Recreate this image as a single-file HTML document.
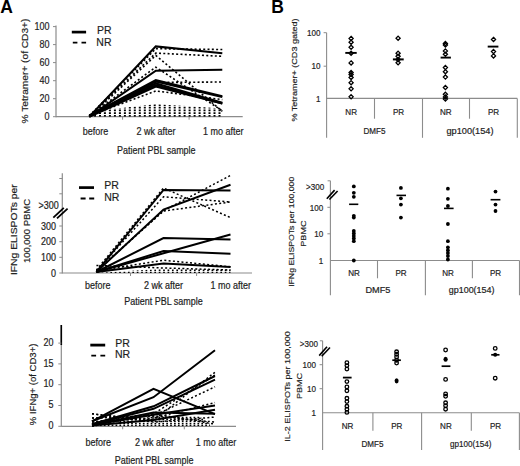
<!DOCTYPE html>
<html><head><meta charset="utf-8"><style>
html,body{margin:0;padding:0;background:#fff;}
body{width:520px;height:466px;overflow:hidden;}
svg{display:block;font-family:"Liberation Sans", sans-serif;}
</style></head><body>
<svg width="520" height="466" viewBox="0 0 520 466">
<rect width="520" height="466" fill="#fff"/>
<text transform="translate(0.2,12.6)" font-size="17.5" text-anchor="start" font-weight="bold" fill="#000">A</text>
<text transform="translate(271.2,12.7)" font-size="17.5" text-anchor="start" font-weight="bold" fill="#000">B</text>
<line x1="56.0" y1="25.5" x2="56.0" y2="117.2" stroke="#8c8c8c" stroke-width="1.2" stroke-linecap="butt"/>
<line x1="56.0" y1="116.7" x2="242.7" y2="116.7" stroke="#8c8c8c" stroke-width="1.2" stroke-linecap="butt"/>
<line x1="53.0" y1="116.7" x2="56.0" y2="116.7" stroke="#8c8c8c" stroke-width="1" stroke-linecap="butt"/>
<text transform="translate(49.6,120.3) scale(1.0,1.12)" font-size="9.0" text-anchor="end" fill="#1e1e1e" stroke="#1e1e1e" stroke-width="0.18">0</text>
<line x1="53.0" y1="98.7" x2="56.0" y2="98.7" stroke="#8c8c8c" stroke-width="1" stroke-linecap="butt"/>
<text transform="translate(49.6,102.3) scale(1.0,1.12)" font-size="9.0" text-anchor="end" fill="#1e1e1e" stroke="#1e1e1e" stroke-width="0.18">20</text>
<line x1="53.0" y1="80.7" x2="56.0" y2="80.7" stroke="#8c8c8c" stroke-width="1" stroke-linecap="butt"/>
<text transform="translate(49.6,84.3) scale(1.0,1.12)" font-size="9.0" text-anchor="end" fill="#1e1e1e" stroke="#1e1e1e" stroke-width="0.18">40</text>
<line x1="53.0" y1="62.6" x2="56.0" y2="62.6" stroke="#8c8c8c" stroke-width="1" stroke-linecap="butt"/>
<text transform="translate(49.6,66.2) scale(1.0,1.12)" font-size="9.0" text-anchor="end" fill="#1e1e1e" stroke="#1e1e1e" stroke-width="0.18">60</text>
<line x1="53.0" y1="44.6" x2="56.0" y2="44.6" stroke="#8c8c8c" stroke-width="1" stroke-linecap="butt"/>
<text transform="translate(49.6,48.2) scale(1.0,1.12)" font-size="9.0" text-anchor="end" fill="#1e1e1e" stroke="#1e1e1e" stroke-width="0.18">80</text>
<line x1="53.0" y1="26.6" x2="56.0" y2="26.6" stroke="#8c8c8c" stroke-width="1" stroke-linecap="butt"/>
<text transform="translate(49.6,30.2) scale(1.0,1.12)" font-size="9.0" text-anchor="end" fill="#1e1e1e" stroke="#1e1e1e" stroke-width="0.18">100</text>
<line x1="122.6" y1="116.7" x2="122.6" y2="119.7" stroke="#8c8c8c" stroke-width="1" stroke-linecap="butt"/>
<line x1="189.1" y1="116.7" x2="189.1" y2="119.7" stroke="#8c8c8c" stroke-width="1" stroke-linecap="butt"/>
<text transform="translate(95.6,135.0) scale(1.0,1.12)" font-size="9.0" text-anchor="middle" fill="#1e1e1e" stroke="#1e1e1e" stroke-width="0.18">before</text>
<text transform="translate(156.0,135.0) scale(1.0,1.12)" font-size="9.0" text-anchor="middle" fill="#1e1e1e" stroke="#1e1e1e" stroke-width="0.18">2 wk after</text>
<text transform="translate(223.2,135.0) scale(1.0,1.12)" font-size="9.0" text-anchor="middle" fill="#1e1e1e" stroke="#1e1e1e" stroke-width="0.18">1 mo after</text>
<text transform="translate(156.3,153.8) scale(1.0,1.12)" font-size="9.0" text-anchor="middle" fill="#1e1e1e" stroke="#1e1e1e" stroke-width="0.18">Patient PBL sample</text>
<text transform="translate(27.8,71.0) rotate(-90) scale(1.13,1.0)" font-size="9.0" text-anchor="middle" fill="#1e1e1e" stroke="#1e1e1e" stroke-width="0.18">% Tetramer+ (of CD3+)</text>
<line x1="71.8" y1="32.1" x2="86.1" y2="32.1" stroke="#000" stroke-width="2.7" stroke-linecap="butt"/>
<line x1="72.8" y1="42.7" x2="86.8" y2="42.7" stroke="#000" stroke-width="1.8" stroke-dasharray="4.6,4.1" stroke-linecap="butt"/>
<text transform="translate(96.9,34.1)" font-size="10.5" text-anchor="start" fill="#1e1e1e" stroke="#1e1e1e" stroke-width="0.18">PR</text>
<text transform="translate(96.3,45.6)" font-size="10.5" text-anchor="start" fill="#1e1e1e" stroke="#1e1e1e" stroke-width="0.18">NR</text>
<clipPath id="h1"><polygon points="89.3,116.7 95.0,115.0 100.0,112.5 105.0,110.6 110.0,109.3 120.0,108.2 130.0,107.0 155.8,104.3 190.0,106.3 222.3,108.6 222.3,116.7"/></clipPath>
<g clip-path="url(#h1)" stroke="#000" stroke-width="2.0" stroke-dasharray="1.8,0.9"><line x1="90.0" y1="116.7" x2="90.0" y2="104.3"/><line x1="95.0" y1="116.7" x2="95.0" y2="104.3"/><line x1="100.0" y1="116.7" x2="100.0" y2="104.3"/><line x1="104.9" y1="116.7" x2="104.9" y2="104.3"/><line x1="109.9" y1="116.7" x2="109.9" y2="104.3"/><line x1="114.9" y1="116.7" x2="114.9" y2="104.3"/><line x1="119.9" y1="116.7" x2="119.9" y2="104.3"/><line x1="124.9" y1="116.7" x2="124.9" y2="104.3"/><line x1="129.8" y1="116.7" x2="129.8" y2="104.3"/><line x1="134.8" y1="116.7" x2="134.8" y2="104.3"/><line x1="139.8" y1="116.7" x2="139.8" y2="104.3"/><line x1="144.8" y1="116.7" x2="144.8" y2="104.3"/><line x1="149.8" y1="116.7" x2="149.8" y2="104.3"/><line x1="154.7" y1="116.7" x2="154.7" y2="104.3"/><line x1="159.7" y1="116.7" x2="159.7" y2="104.3"/><line x1="164.7" y1="116.7" x2="164.7" y2="104.3"/><line x1="169.7" y1="116.7" x2="169.7" y2="104.3"/><line x1="174.7" y1="116.7" x2="174.7" y2="104.3"/><line x1="179.6" y1="116.7" x2="179.6" y2="104.3"/><line x1="184.6" y1="116.7" x2="184.6" y2="104.3"/><line x1="189.6" y1="116.7" x2="189.6" y2="104.3"/><line x1="194.6" y1="116.7" x2="194.6" y2="104.3"/><line x1="199.6" y1="116.7" x2="199.6" y2="104.3"/><line x1="204.5" y1="116.7" x2="204.5" y2="104.3"/><line x1="209.5" y1="116.7" x2="209.5" y2="104.3"/><line x1="214.5" y1="116.7" x2="214.5" y2="104.3"/><line x1="219.5" y1="116.7" x2="219.5" y2="104.3"/></g>
<polyline points="89.3,115.8 155.8,48.7 222.3,49.5" fill="none" stroke="#000" stroke-width="1.6" stroke-dasharray="2,2.3" stroke-linecap="butt" stroke-linejoin="miter"/>
<polyline points="89.3,115.8 155.8,53.1 222.3,56.3" fill="none" stroke="#000" stroke-width="1.6" stroke-dasharray="2,2.3" stroke-linecap="butt" stroke-linejoin="miter"/>
<polyline points="89.3,116.7 155.8,55.4 222.3,111.3" fill="none" stroke="#000" stroke-width="1.6" stroke-dasharray="2,2.3" stroke-linecap="butt" stroke-linejoin="miter"/>
<polyline points="89.3,115.8 155.8,67.1 222.3,110.8" fill="none" stroke="#000" stroke-width="1.6" stroke-dasharray="2,2.3" stroke-linecap="butt" stroke-linejoin="miter"/>
<polyline points="89.3,115.8 155.8,82.5 222.3,82.0" fill="none" stroke="#000" stroke-width="1.6" stroke-dasharray="2,2.3" stroke-linecap="butt" stroke-linejoin="miter"/>
<polyline points="89.3,115.8 155.8,90.9 222.3,99.6" fill="none" stroke="#000" stroke-width="1.6" stroke-dasharray="2,2.3" stroke-linecap="butt" stroke-linejoin="miter"/>
<polyline points="89.3,116.7 155.8,46.4 222.3,53.2" fill="none" stroke="#000" stroke-width="2.1" stroke-linecap="butt" stroke-linejoin="miter"/>
<polyline points="89.3,116.7 155.8,70.7 222.3,69.8" fill="none" stroke="#000" stroke-width="2.1" stroke-linecap="butt" stroke-linejoin="miter"/>
<polyline points="89.3,115.8 155.8,80.2 222.3,96.2" fill="none" stroke="#000" stroke-width="2.1" stroke-linecap="butt" stroke-linejoin="miter"/>
<polyline points="89.3,115.8 155.8,81.6 222.3,96.9" fill="none" stroke="#000" stroke-width="2.1" stroke-linecap="butt" stroke-linejoin="miter"/>
<polyline points="89.3,116.2 155.8,83.4 222.3,102.7" fill="none" stroke="#000" stroke-width="2.1" stroke-linecap="butt" stroke-linejoin="miter"/>
<polyline points="89.3,115.8 155.8,85.2 222.3,103.6" fill="none" stroke="#000" stroke-width="2.1" stroke-linecap="butt" stroke-linejoin="miter"/>
<polyline points="89.3,116.7 155.8,86.5 222.3,103.4" fill="none" stroke="#000" stroke-width="2.1" stroke-linecap="butt" stroke-linejoin="miter"/>
<line x1="62.3" y1="173.3" x2="62.3" y2="273.5" stroke="#8c8c8c" stroke-width="1.2" stroke-linecap="butt"/>
<line x1="62.3" y1="273.0" x2="252.0" y2="273.0" stroke="#8c8c8c" stroke-width="1.2" stroke-linecap="butt"/>
<line x1="59.3" y1="178.5" x2="62.3" y2="178.5" stroke="#8c8c8c" stroke-width="1" stroke-linecap="butt"/>
<line x1="59.3" y1="193.8" x2="62.3" y2="193.8" stroke="#8c8c8c" stroke-width="1" stroke-linecap="butt"/>
<line x1="59.3" y1="273.0" x2="62.3" y2="273.0" stroke="#8c8c8c" stroke-width="1" stroke-linecap="butt"/>
<text transform="translate(56.0,276.6) scale(1.0,1.12)" font-size="9.0" text-anchor="end" fill="#1e1e1e" stroke="#1e1e1e" stroke-width="0.18">0</text>
<line x1="59.3" y1="257.3" x2="62.3" y2="257.3" stroke="#8c8c8c" stroke-width="1" stroke-linecap="butt"/>
<text transform="translate(56.0,260.9) scale(1.0,1.12)" font-size="9.0" text-anchor="end" fill="#1e1e1e" stroke="#1e1e1e" stroke-width="0.18">100</text>
<line x1="59.3" y1="241.7" x2="62.3" y2="241.7" stroke="#8c8c8c" stroke-width="1" stroke-linecap="butt"/>
<text transform="translate(56.0,245.3) scale(1.0,1.12)" font-size="9.0" text-anchor="end" fill="#1e1e1e" stroke="#1e1e1e" stroke-width="0.18">200</text>
<line x1="59.3" y1="226.0" x2="62.3" y2="226.0" stroke="#8c8c8c" stroke-width="1" stroke-linecap="butt"/>
<text transform="translate(56.0,229.6) scale(1.0,1.12)" font-size="9.0" text-anchor="end" fill="#1e1e1e" stroke="#1e1e1e" stroke-width="0.18">300</text>
<text transform="translate(58.8,208.9) scale(1.0,1.12)" font-size="9.0" text-anchor="end" fill="#1e1e1e" stroke="#1e1e1e" stroke-width="0.18">&gt;300</text>
<line x1="53.3" y1="217.6" x2="63.8" y2="207.8" stroke="#000" stroke-width="1.8" stroke-linecap="butt"/>
<line x1="57.0" y1="218.3" x2="67.6" y2="208.6" stroke="#000" stroke-width="1.8" stroke-linecap="butt"/>
<line x1="130.5" y1="273.0" x2="130.5" y2="276.0" stroke="#8c8c8c" stroke-width="1" stroke-linecap="butt"/>
<line x1="196.6" y1="273.0" x2="196.6" y2="276.0" stroke="#8c8c8c" stroke-width="1" stroke-linecap="butt"/>
<text transform="translate(97.8,289.0) scale(1.0,1.12)" font-size="9.0" text-anchor="middle" fill="#1e1e1e" stroke="#1e1e1e" stroke-width="0.18">before</text>
<text transform="translate(163.5,289.0) scale(1.0,1.12)" font-size="9.0" text-anchor="middle" fill="#1e1e1e" stroke="#1e1e1e" stroke-width="0.18">2 wk after</text>
<text transform="translate(230.7,289.0) scale(1.0,1.12)" font-size="9.0" text-anchor="middle" fill="#1e1e1e" stroke="#1e1e1e" stroke-width="0.18">1 mo after</text>
<text transform="translate(163.5,305.2) scale(1.0,1.12)" font-size="9.0" text-anchor="middle" fill="#1e1e1e" stroke="#1e1e1e" stroke-width="0.18">Patient PBL sample</text>
<text transform="translate(17.0,229.7) rotate(-90) scale(1.15,1.0)" font-size="9.0" text-anchor="middle" fill="#1e1e1e" stroke="#1e1e1e" stroke-width="0.18">IFNg ELISPOTs per</text>
<text transform="translate(29.5,231.0) rotate(-90) scale(1.05,1.0)" font-size="9.0" text-anchor="middle" fill="#1e1e1e" stroke="#1e1e1e" stroke-width="0.18">100,000 PBMC</text>
<line x1="79.0" y1="187.6" x2="94.0" y2="187.6" stroke="#000" stroke-width="2.7" stroke-linecap="butt"/>
<line x1="80.6" y1="198.5" x2="94.7" y2="198.5" stroke="#000" stroke-width="1.8" stroke-dasharray="5,3.6" stroke-linecap="butt"/>
<text transform="translate(104.2,189.4)" font-size="10.5" text-anchor="start" fill="#1e1e1e" stroke="#1e1e1e" stroke-width="0.18">PR</text>
<text transform="translate(104.2,201.2)" font-size="10.5" text-anchor="start" fill="#1e1e1e" stroke="#1e1e1e" stroke-width="0.18">NR</text>
<clipPath id="h2"><polygon points="96.4,273.0 163.5,268.8 230.5,268.8 230.5,273.0"/></clipPath>
<g clip-path="url(#h2)" stroke="#000" stroke-width="1.7" stroke-dasharray="1.3,0.8"><line x1="98.0" y1="273.0" x2="98.0" y2="268.8"/><line x1="102.4" y1="273.0" x2="102.4" y2="268.8"/><line x1="106.8" y1="273.0" x2="106.8" y2="268.8"/><line x1="111.2" y1="273.0" x2="111.2" y2="268.8"/><line x1="115.6" y1="273.0" x2="115.6" y2="268.8"/><line x1="120.0" y1="273.0" x2="120.0" y2="268.8"/><line x1="124.4" y1="273.0" x2="124.4" y2="268.8"/><line x1="128.8" y1="273.0" x2="128.8" y2="268.8"/><line x1="133.2" y1="273.0" x2="133.2" y2="268.8"/><line x1="137.6" y1="273.0" x2="137.6" y2="268.8"/><line x1="142.0" y1="273.0" x2="142.0" y2="268.8"/><line x1="146.4" y1="273.0" x2="146.4" y2="268.8"/><line x1="150.8" y1="273.0" x2="150.8" y2="268.8"/><line x1="155.2" y1="273.0" x2="155.2" y2="268.8"/><line x1="159.6" y1="273.0" x2="159.6" y2="268.8"/><line x1="164.0" y1="273.0" x2="164.0" y2="268.8"/><line x1="168.4" y1="273.0" x2="168.4" y2="268.8"/><line x1="172.8" y1="273.0" x2="172.8" y2="268.8"/><line x1="177.2" y1="273.0" x2="177.2" y2="268.8"/><line x1="181.6" y1="273.0" x2="181.6" y2="268.8"/><line x1="186.0" y1="273.0" x2="186.0" y2="268.8"/><line x1="190.4" y1="273.0" x2="190.4" y2="268.8"/><line x1="194.8" y1="273.0" x2="194.8" y2="268.8"/><line x1="199.2" y1="273.0" x2="199.2" y2="268.8"/><line x1="203.6" y1="273.0" x2="203.6" y2="268.8"/><line x1="208.0" y1="273.0" x2="208.0" y2="268.8"/><line x1="212.4" y1="273.0" x2="212.4" y2="268.8"/><line x1="216.8" y1="273.0" x2="216.8" y2="268.8"/><line x1="221.2" y1="273.0" x2="221.2" y2="268.8"/><line x1="225.6" y1="273.0" x2="225.6" y2="268.8"/><line x1="230.0" y1="273.0" x2="230.0" y2="268.8"/></g>
<polyline points="96.4,271.0 163.5,210.8 230.5,175.4" fill="none" stroke="#000" stroke-width="1.5" stroke-dasharray="2,2.3" stroke-linecap="butt" stroke-linejoin="miter"/>
<polyline points="96.4,271.0 163.5,196.8 230.5,202.0" fill="none" stroke="#000" stroke-width="1.5" stroke-dasharray="2,2.3" stroke-linecap="butt" stroke-linejoin="miter"/>
<polyline points="96.4,270.0 163.5,188.0 230.5,217.6" fill="none" stroke="#000" stroke-width="1.5" stroke-dasharray="2,2.3" stroke-linecap="butt" stroke-linejoin="miter"/>
<polyline points="96.4,271.0 163.5,211.0 230.5,202.0" fill="none" stroke="#000" stroke-width="1.5" stroke-dasharray="2,2.3" stroke-linecap="butt" stroke-linejoin="miter"/>
<polyline points="96.4,271.0 163.5,260.2 230.5,266.8" fill="none" stroke="#000" stroke-width="1.5" stroke-dasharray="2,2.3" stroke-linecap="butt" stroke-linejoin="miter"/>
<polyline points="96.4,265.4 163.5,268.0 230.5,270.0" fill="none" stroke="#000" stroke-width="1.5" stroke-dasharray="2,2.3" stroke-linecap="butt" stroke-linejoin="miter"/>
<polyline points="96.4,272.0 163.5,189.9 230.5,190.4" fill="none" stroke="#000" stroke-width="2.0" stroke-linecap="butt" stroke-linejoin="miter"/>
<polyline points="96.4,272.0 163.5,209.5 230.5,184.7" fill="none" stroke="#000" stroke-width="2.0" stroke-linecap="butt" stroke-linejoin="miter"/>
<polyline points="96.4,272.0 163.5,238.0 230.5,239.4" fill="none" stroke="#000" stroke-width="2.0" stroke-linecap="butt" stroke-linejoin="miter"/>
<polyline points="96.4,272.0 163.5,253.3 230.5,234.5" fill="none" stroke="#000" stroke-width="2.0" stroke-linecap="butt" stroke-linejoin="miter"/>
<polyline points="96.4,272.0 163.5,251.0 230.5,253.8" fill="none" stroke="#000" stroke-width="2.0" stroke-linecap="butt" stroke-linejoin="miter"/>
<polyline points="96.4,272.0 163.5,263.5 230.5,267.0" fill="none" stroke="#000" stroke-width="2.0" stroke-linecap="butt" stroke-linejoin="miter"/>
<line x1="61.3" y1="325.0" x2="61.3" y2="426.8" stroke="#8c8c8c" stroke-width="1.2" stroke-linecap="butt"/>
<line x1="61.3" y1="325.0" x2="61.3" y2="345.0" stroke="#000" stroke-width="1.6" stroke-linecap="butt"/>
<line x1="61.3" y1="426.3" x2="236.0" y2="426.3" stroke="#8c8c8c" stroke-width="1.2" stroke-linecap="butt"/>
<line x1="58.3" y1="426.3" x2="61.3" y2="426.3" stroke="#8c8c8c" stroke-width="1" stroke-linecap="butt"/>
<text transform="translate(53.4,428.9) scale(1.0,1.12)" font-size="9.0" text-anchor="end" fill="#1e1e1e" stroke="#1e1e1e" stroke-width="0.18">0</text>
<line x1="58.3" y1="405.5" x2="61.3" y2="405.5" stroke="#8c8c8c" stroke-width="1" stroke-linecap="butt"/>
<text transform="translate(53.4,408.1) scale(1.0,1.12)" font-size="9.0" text-anchor="end" fill="#1e1e1e" stroke="#1e1e1e" stroke-width="0.18">5</text>
<line x1="58.3" y1="384.7" x2="61.3" y2="384.7" stroke="#8c8c8c" stroke-width="1" stroke-linecap="butt"/>
<text transform="translate(53.4,387.3) scale(1.0,1.12)" font-size="9.0" text-anchor="end" fill="#1e1e1e" stroke="#1e1e1e" stroke-width="0.18">10</text>
<line x1="58.3" y1="363.9" x2="61.3" y2="363.9" stroke="#8c8c8c" stroke-width="1" stroke-linecap="butt"/>
<text transform="translate(53.4,366.5) scale(1.0,1.12)" font-size="9.0" text-anchor="end" fill="#1e1e1e" stroke="#1e1e1e" stroke-width="0.18">15</text>
<line x1="58.3" y1="343.1" x2="61.3" y2="343.1" stroke="#8c8c8c" stroke-width="1" stroke-linecap="butt"/>
<text transform="translate(53.4,345.7) scale(1.0,1.12)" font-size="9.0" text-anchor="end" fill="#1e1e1e" stroke="#1e1e1e" stroke-width="0.18">20</text>
<line x1="122.7" y1="426.3" x2="122.7" y2="429.3" stroke="#8c8c8c" stroke-width="1" stroke-linecap="butt"/>
<line x1="184.3" y1="426.3" x2="184.3" y2="429.3" stroke="#8c8c8c" stroke-width="1" stroke-linecap="butt"/>
<text transform="translate(98.2,445.7) scale(1.0,1.12)" font-size="9.0" text-anchor="middle" fill="#1e1e1e" stroke="#1e1e1e" stroke-width="0.18">before</text>
<text transform="translate(154.6,445.7) scale(1.0,1.12)" font-size="9.0" text-anchor="middle" fill="#1e1e1e" stroke="#1e1e1e" stroke-width="0.18">2 wk after</text>
<text transform="translate(216.0,445.7) scale(1.0,1.12)" font-size="9.0" text-anchor="middle" fill="#1e1e1e" stroke="#1e1e1e" stroke-width="0.18">1 mo after</text>
<text transform="translate(154.1,464.1) scale(1.0,1.12)" font-size="9.0" text-anchor="middle" fill="#1e1e1e" stroke="#1e1e1e" stroke-width="0.18">Patient PBL sample</text>
<text transform="translate(35.7,384.4) rotate(-90) scale(1.06,1.0)" font-size="9.0" text-anchor="middle" fill="#1e1e1e" stroke="#1e1e1e" stroke-width="0.18">% IFNg+ (of CD3+)</text>
<line x1="90.3" y1="345.1" x2="105.2" y2="345.1" stroke="#000" stroke-width="2.8" stroke-linecap="butt"/>
<line x1="91.3" y1="355.7" x2="105.7" y2="355.7" stroke="#000" stroke-width="1.8" stroke-dasharray="4.8,4.3" stroke-linecap="butt"/>
<text transform="translate(115.3,346.5)" font-size="10.5" text-anchor="start" fill="#1e1e1e" stroke="#1e1e1e" stroke-width="0.18">PR</text>
<text transform="translate(115.0,358.2)" font-size="10.5" text-anchor="start" fill="#1e1e1e" stroke="#1e1e1e" stroke-width="0.18">NR</text>
<clipPath id="h3"><polygon points="92.0,426.3 125.0,420.0 153.5,416.5 200.0,416.5 210.0,424.0 210.0,426.3"/></clipPath>
<g clip-path="url(#h3)" stroke="#000" stroke-width="1.7" stroke-dasharray="1.5,0.6"><line x1="93.0" y1="426.3" x2="93.0" y2="416.5"/><line x1="96.9" y1="426.3" x2="96.9" y2="416.5"/><line x1="100.8" y1="426.3" x2="100.8" y2="416.5"/><line x1="104.7" y1="426.3" x2="104.7" y2="416.5"/><line x1="108.6" y1="426.3" x2="108.6" y2="416.5"/><line x1="112.5" y1="426.3" x2="112.5" y2="416.5"/><line x1="116.4" y1="426.3" x2="116.4" y2="416.5"/><line x1="120.3" y1="426.3" x2="120.3" y2="416.5"/><line x1="124.2" y1="426.3" x2="124.2" y2="416.5"/><line x1="128.1" y1="426.3" x2="128.1" y2="416.5"/><line x1="132.0" y1="426.3" x2="132.0" y2="416.5"/><line x1="135.9" y1="426.3" x2="135.9" y2="416.5"/><line x1="139.8" y1="426.3" x2="139.8" y2="416.5"/><line x1="143.7" y1="426.3" x2="143.7" y2="416.5"/><line x1="147.6" y1="426.3" x2="147.6" y2="416.5"/><line x1="151.5" y1="426.3" x2="151.5" y2="416.5"/><line x1="155.4" y1="426.3" x2="155.4" y2="416.5"/><line x1="159.3" y1="426.3" x2="159.3" y2="416.5"/><line x1="163.2" y1="426.3" x2="163.2" y2="416.5"/><line x1="167.1" y1="426.3" x2="167.1" y2="416.5"/><line x1="171.0" y1="426.3" x2="171.0" y2="416.5"/><line x1="174.9" y1="426.3" x2="174.9" y2="416.5"/><line x1="178.8" y1="426.3" x2="178.8" y2="416.5"/><line x1="182.7" y1="426.3" x2="182.7" y2="416.5"/><line x1="186.6" y1="426.3" x2="186.6" y2="416.5"/><line x1="190.5" y1="426.3" x2="190.5" y2="416.5"/><line x1="194.4" y1="426.3" x2="194.4" y2="416.5"/><line x1="198.3" y1="426.3" x2="198.3" y2="416.5"/><line x1="202.2" y1="426.3" x2="202.2" y2="416.5"/><line x1="206.1" y1="426.3" x2="206.1" y2="416.5"/><line x1="210.0" y1="426.3" x2="210.0" y2="416.5"/><line x1="213.9" y1="426.3" x2="213.9" y2="416.5"/></g>
<polyline points="92.0,413.8 153.5,420.1 215.0,372.2" fill="none" stroke="#000" stroke-width="1.5" stroke-dasharray="2,2.3" stroke-linecap="butt" stroke-linejoin="miter"/>
<polyline points="92.0,418.0 153.5,415.9 215.0,386.8" fill="none" stroke="#000" stroke-width="1.5" stroke-dasharray="2,2.3" stroke-linecap="butt" stroke-linejoin="miter"/>
<polyline points="92.0,422.1 153.5,418.0 215.0,402.6" fill="none" stroke="#000" stroke-width="1.5" stroke-dasharray="2,2.3" stroke-linecap="butt" stroke-linejoin="miter"/>
<polyline points="92.0,426.3 153.5,413.8 215.0,375.1" fill="none" stroke="#000" stroke-width="1.5" stroke-dasharray="2,2.3" stroke-linecap="butt" stroke-linejoin="miter"/>
<polyline points="92.0,418.0 153.5,415.9 215.0,422.1" fill="none" stroke="#000" stroke-width="1.5" stroke-dasharray="2,2.3" stroke-linecap="butt" stroke-linejoin="miter"/>
<polyline points="92.0,413.8 153.5,422.1 215.0,417.1" fill="none" stroke="#000" stroke-width="1.5" stroke-dasharray="2,2.3" stroke-linecap="butt" stroke-linejoin="miter"/>
<polyline points="92.0,422.1 153.5,413.8 215.0,424.2" fill="none" stroke="#000" stroke-width="1.5" stroke-dasharray="2,2.3" stroke-linecap="butt" stroke-linejoin="miter"/>
<polyline points="92.0,421.3 153.5,397.2 215.0,350.2" fill="none" stroke="#000" stroke-width="2.0" stroke-linecap="butt" stroke-linejoin="miter"/>
<polyline points="92.0,421.3 153.5,388.9 215.0,414.2" fill="none" stroke="#000" stroke-width="2.0" stroke-linecap="butt" stroke-linejoin="miter"/>
<polyline points="92.0,424.2 153.5,406.3 215.0,376.0" fill="none" stroke="#000" stroke-width="2.0" stroke-linecap="butt" stroke-linejoin="miter"/>
<polyline points="92.0,424.2 153.5,408.8 215.0,379.7" fill="none" stroke="#000" stroke-width="2.0" stroke-linecap="butt" stroke-linejoin="miter"/>
<polyline points="92.0,425.1 153.5,414.7 215.0,405.5" fill="none" stroke="#000" stroke-width="2.0" stroke-linecap="butt" stroke-linejoin="miter"/>
<polyline points="92.0,425.1 153.5,412.6 215.0,413.8" fill="none" stroke="#000" stroke-width="2.0" stroke-linecap="butt" stroke-linejoin="miter"/>
<polyline points="92.0,425.5 153.5,420.1 215.0,409.7" fill="none" stroke="#000" stroke-width="2.0" stroke-linecap="butt" stroke-linejoin="miter"/>
<line x1="326.6" y1="32.7" x2="326.6" y2="137.8" stroke="#8c8c8c" stroke-width="1.1" stroke-linecap="butt"/>
<line x1="326.6" y1="98.4" x2="517.3" y2="98.4" stroke="#8c8c8c" stroke-width="1.1" stroke-linecap="butt"/>
<line x1="323.6" y1="32.7" x2="326.6" y2="32.7" stroke="#8c8c8c" stroke-width="1" stroke-linecap="butt"/>
<line x1="323.6" y1="66.2" x2="326.6" y2="66.2" stroke="#8c8c8c" stroke-width="1" stroke-linecap="butt"/>
<line x1="374.5" y1="98.4" x2="374.5" y2="118.7" stroke="#8c8c8c" stroke-width="1.1" stroke-linecap="butt"/>
<line x1="422.5" y1="98.4" x2="422.5" y2="137.8" stroke="#8c8c8c" stroke-width="1.1" stroke-linecap="butt"/>
<line x1="469.5" y1="98.4" x2="469.5" y2="118.7" stroke="#8c8c8c" stroke-width="1.1" stroke-linecap="butt"/>
<line x1="517.3" y1="98.4" x2="517.3" y2="137.8" stroke="#8c8c8c" stroke-width="1.1" stroke-linecap="butt"/>
<text transform="translate(320.6,35.9) scale(1.0,1.12)" font-size="8.1" text-anchor="end" fill="#1e1e1e" stroke="#1e1e1e" stroke-width="0.18">100</text>
<text transform="translate(320.6,69.4) scale(1.0,1.12)" font-size="8.1" text-anchor="end" fill="#1e1e1e" stroke="#1e1e1e" stroke-width="0.18">10</text>
<text transform="translate(320.6,101.6) scale(1.0,1.12)" font-size="8.1" text-anchor="end" fill="#1e1e1e" stroke="#1e1e1e" stroke-width="0.18">1</text>
<text transform="translate(296.6,70.0) rotate(-90) scale(1.12,1.0)" font-size="8.1" text-anchor="middle" fill="#1e1e1e" stroke="#1e1e1e" stroke-width="0.18">% Tetramer+ (CD3 gated)</text>
<text transform="translate(351.2,114.6) scale(1.0,1.12)" font-size="8.1" text-anchor="middle" fill="#1e1e1e" stroke="#1e1e1e" stroke-width="0.18">NR</text>
<text transform="translate(398.5,114.6) scale(1.0,1.12)" font-size="8.1" text-anchor="middle" fill="#1e1e1e" stroke="#1e1e1e" stroke-width="0.18">PR</text>
<text transform="translate(445.8,114.6) scale(1.0,1.12)" font-size="8.1" text-anchor="middle" fill="#1e1e1e" stroke="#1e1e1e" stroke-width="0.18">NR</text>
<text transform="translate(493.5,114.6) scale(1.0,1.12)" font-size="8.1" text-anchor="middle" fill="#1e1e1e" stroke="#1e1e1e" stroke-width="0.18">PR</text>
<text transform="translate(374.5,134.3) scale(1.0,1.12)" font-size="8.1" text-anchor="middle" fill="#1e1e1e" stroke="#1e1e1e" stroke-width="0.18">DMF5</text>
<text transform="translate(470.0,134.3) scale(1.0,1.12)" font-size="8.1" text-anchor="middle" fill="#1e1e1e" stroke="#1e1e1e" stroke-width="0.18" textLength="47.0" lengthAdjust="spacingAndGlyphs">gp100(154)</text>
<path d="M351.1,36.3 L353.2,38.4 L351.1,40.5 L349.0,38.4 Z" fill="none" stroke="#000" stroke-width="1.25"/>
<path d="M351.1,40.1 L353.2,42.2 L351.1,44.3 L349.0,42.2 Z" fill="none" stroke="#000" stroke-width="1.25"/>
<path d="M351.1,45.2 L353.2,47.3 L351.1,49.4 L349.0,47.3 Z" fill="none" stroke="#000" stroke-width="1.25"/>
<path d="M351.1,51.2 L353.2,53.3 L351.1,55.4 L349.0,53.3 Z" fill="none" stroke="#000" stroke-width="1.25"/>
<path d="M351.1,60.8 L353.2,62.9 L351.1,65.0 L349.0,62.9 Z" fill="none" stroke="#000" stroke-width="1.25"/>
<path d="M351.1,70.4 L353.2,72.5 L351.1,74.6 L349.0,72.5 Z" fill="none" stroke="#000" stroke-width="1.25"/>
<path d="M351.1,72.4 L353.2,74.5 L351.1,76.6 L349.0,74.5 Z" fill="none" stroke="#000" stroke-width="1.25"/>
<path d="M351.1,75.3 L353.2,77.4 L351.1,79.5 L349.0,77.4 Z" fill="none" stroke="#000" stroke-width="1.25"/>
<path d="M351.1,80.6 L353.2,82.7 L351.1,84.8 L349.0,82.7 Z" fill="none" stroke="#000" stroke-width="1.25"/>
<path d="M351.1,86.7 L353.2,88.8 L351.1,90.9 L349.0,88.8 Z" fill="none" stroke="#000" stroke-width="1.25"/>
<path d="M351.1,94.7 L353.2,96.8 L351.1,98.9 L349.0,96.8 Z" fill="none" stroke="#000" stroke-width="1.25"/>
<line x1="345.3" y1="52.9" x2="356.7" y2="52.9" stroke="#000" stroke-width="1.9" stroke-linecap="butt"/>
<path d="M398.1,36.1 L400.2,38.2 L398.1,40.3 L396.0,38.2 Z" fill="none" stroke="#000" stroke-width="1.25"/>
<path d="M398.1,51.1 L400.2,53.2 L398.1,55.3 L396.0,53.2 Z" fill="none" stroke="#000" stroke-width="1.25"/>
<path d="M398.1,54.2 L400.2,56.3 L398.1,58.4 L396.0,56.3 Z" fill="none" stroke="#000" stroke-width="1.25"/>
<path d="M398.1,57.4 L400.2,59.5 L398.1,61.6 L396.0,59.5 Z" fill="none" stroke="#000" stroke-width="1.25"/>
<path d="M398.1,60.7 L400.2,62.8 L398.1,64.9 L396.0,62.8 Z" fill="none" stroke="#000" stroke-width="1.25"/>
<line x1="392.9" y1="59.4" x2="403.7" y2="59.4" stroke="#000" stroke-width="2.0" stroke-linecap="butt"/>
<path d="M445.4,41.4 L447.5,43.5 L445.4,45.6 L443.3,43.5 Z" fill="none" stroke="#000" stroke-width="1.25"/>
<path d="M445.4,42.9 L447.5,45.0 L445.4,47.1 L443.3,45.0 Z" fill="none" stroke="#000" stroke-width="1.25"/>
<path d="M445.4,48.9 L447.5,51.0 L445.4,53.1 L443.3,51.0 Z" fill="none" stroke="#000" stroke-width="1.25"/>
<path d="M445.4,52.1 L447.5,54.2 L445.4,56.3 L443.3,54.2 Z" fill="none" stroke="#000" stroke-width="1.25"/>
<path d="M445.4,65.4 L447.5,67.5 L445.4,69.6 L443.3,67.5 Z" fill="none" stroke="#000" stroke-width="1.25"/>
<path d="M445.4,69.6 L447.5,71.7 L445.4,73.8 L443.3,71.7 Z" fill="none" stroke="#000" stroke-width="1.25"/>
<path d="M445.4,75.0 L447.5,77.1 L445.4,79.2 L443.3,77.1 Z" fill="none" stroke="#000" stroke-width="1.25"/>
<path d="M445.4,85.4 L447.5,87.5 L445.4,89.6 L443.3,87.5 Z" fill="none" stroke="#000" stroke-width="1.25"/>
<path d="M445.4,92.2 L447.5,94.3 L445.4,96.4 L443.3,94.3 Z" fill="none" stroke="#000" stroke-width="1.25"/>
<path d="M445.4,95.0 L447.5,97.1 L445.4,99.2 L443.3,97.1 Z" fill="none" stroke="#000" stroke-width="1.25"/>
<path d="M445.4,96.9 L447.5,99.0 L445.4,101.1 L443.3,99.0 Z" fill="none" stroke="#000" stroke-width="1.25"/>
<line x1="440.6" y1="57.6" x2="450.9" y2="57.6" stroke="#000" stroke-width="1.9" stroke-linecap="butt"/>
<path d="M493.5,37.3 L495.6,39.4 L493.5,41.5 L491.4,39.4 Z" fill="none" stroke="#000" stroke-width="1.25"/>
<path d="M493.5,49.4 L495.6,51.5 L493.5,53.6 L491.4,51.5 Z" fill="none" stroke="#000" stroke-width="1.25"/>
<path d="M493.5,53.8 L495.6,55.9 L493.5,58.0 L491.4,55.9 Z" fill="none" stroke="#000" stroke-width="1.25"/>
<line x1="487.7" y1="46.6" x2="498.4" y2="46.6" stroke="#000" stroke-width="1.9" stroke-linecap="butt"/>
<line x1="330.4" y1="180.8" x2="330.4" y2="295.2" stroke="#8c8c8c" stroke-width="1.1" stroke-linecap="butt"/>
<line x1="330.4" y1="260.5" x2="519.5" y2="260.5" stroke="#8c8c8c" stroke-width="1.1" stroke-linecap="butt"/>
<line x1="327.4" y1="207.3" x2="330.4" y2="207.3" stroke="#8c8c8c" stroke-width="1" stroke-linecap="butt"/>
<line x1="327.4" y1="233.8" x2="330.4" y2="233.8" stroke="#8c8c8c" stroke-width="1" stroke-linecap="butt"/>
<line x1="377.5" y1="260.5" x2="377.5" y2="278.3" stroke="#8c8c8c" stroke-width="1.1" stroke-linecap="butt"/>
<line x1="425.4" y1="260.5" x2="425.4" y2="295.2" stroke="#8c8c8c" stroke-width="1.1" stroke-linecap="butt"/>
<line x1="472.4" y1="260.5" x2="472.4" y2="278.3" stroke="#8c8c8c" stroke-width="1.1" stroke-linecap="butt"/>
<line x1="519.5" y1="260.5" x2="519.5" y2="295.2" stroke="#8c8c8c" stroke-width="1.1" stroke-linecap="butt"/>
<text transform="translate(323.3,210.5) scale(1.0,1.12)" font-size="8.1" text-anchor="end" fill="#1e1e1e" stroke="#1e1e1e" stroke-width="0.18">100</text>
<text transform="translate(323.3,237.0) scale(1.0,1.12)" font-size="8.1" text-anchor="end" fill="#1e1e1e" stroke="#1e1e1e" stroke-width="0.18">10</text>
<text transform="translate(323.3,263.7) scale(1.0,1.12)" font-size="8.1" text-anchor="end" fill="#1e1e1e" stroke="#1e1e1e" stroke-width="0.18">1</text>
<text transform="translate(293.7,231.8) rotate(-90) scale(1.075,1.0)" font-size="8.1" text-anchor="middle" fill="#1e1e1e" stroke="#1e1e1e" stroke-width="0.18">IFNg ELISPOTs per 100,000</text>
<text transform="translate(306.0,233.6) rotate(-90) scale(1.12,1.0)" font-size="8.1" text-anchor="middle" fill="#1e1e1e" stroke="#1e1e1e" stroke-width="0.18">PBMC</text>
<line x1="327.6" y1="180.8" x2="330.4" y2="180.8" stroke="#8c8c8c" stroke-width="1" stroke-linecap="butt"/>
<text transform="translate(324.2,190.3) scale(1.0,1.12)" font-size="8.1" text-anchor="end" fill="#1e1e1e" stroke="#1e1e1e" stroke-width="0.18">&gt;300</text>
<line x1="326.8" y1="198.8" x2="334.6" y2="190.1" stroke="#000" stroke-width="1.6" stroke-linecap="butt"/>
<line x1="329.4" y1="199.5" x2="337.6" y2="191.0" stroke="#000" stroke-width="1.6" stroke-linecap="butt"/>
<text transform="translate(354.0,276.0) scale(1.0,1.12)" font-size="8.1" text-anchor="middle" fill="#1e1e1e" stroke="#1e1e1e" stroke-width="0.18">NR</text>
<text transform="translate(401.0,276.0) scale(1.0,1.12)" font-size="8.1" text-anchor="middle" fill="#1e1e1e" stroke="#1e1e1e" stroke-width="0.18">PR</text>
<text transform="translate(448.0,276.0) scale(1.0,1.12)" font-size="8.1" text-anchor="middle" fill="#1e1e1e" stroke="#1e1e1e" stroke-width="0.18">NR</text>
<text transform="translate(495.5,276.0) scale(1.0,1.12)" font-size="8.1" text-anchor="middle" fill="#1e1e1e" stroke="#1e1e1e" stroke-width="0.18">PR</text>
<text transform="translate(377.9,293.0) scale(1.0,1.12)" font-size="8.1" text-anchor="middle" fill="#1e1e1e" stroke="#1e1e1e" stroke-width="0.18" textLength="25.0" lengthAdjust="spacingAndGlyphs">DMF5</text>
<text transform="translate(471.6,293.0) scale(1.0,1.12)" font-size="8.1" text-anchor="middle" fill="#1e1e1e" stroke="#1e1e1e" stroke-width="0.18" textLength="45.6" lengthAdjust="spacingAndGlyphs">gp100(154)</text>
<circle cx="353.8" cy="186.4" r="1.9" fill="#000" stroke="none" stroke-width="0"/>
<circle cx="353.8" cy="192.8" r="1.9" fill="#000" stroke="none" stroke-width="0"/>
<circle cx="353.8" cy="196.8" r="1.9" fill="#000" stroke="none" stroke-width="0"/>
<circle cx="353.8" cy="215.8" r="1.9" fill="#000" stroke="none" stroke-width="0"/>
<circle cx="353.8" cy="217.6" r="1.9" fill="#000" stroke="none" stroke-width="0"/>
<circle cx="353.8" cy="231.0" r="1.9" fill="#000" stroke="none" stroke-width="0"/>
<circle cx="353.8" cy="233.5" r="1.9" fill="#000" stroke="none" stroke-width="0"/>
<circle cx="353.8" cy="236.0" r="1.9" fill="#000" stroke="none" stroke-width="0"/>
<circle cx="353.8" cy="238.5" r="1.9" fill="#000" stroke="none" stroke-width="0"/>
<circle cx="353.8" cy="241.2" r="1.9" fill="#000" stroke="none" stroke-width="0"/>
<circle cx="353.8" cy="260.5" r="1.9" fill="#000" stroke="none" stroke-width="0"/>
<line x1="349.1" y1="204.3" x2="358.3" y2="204.3" stroke="#000" stroke-width="1.6" stroke-linecap="butt"/>
<circle cx="400.9" cy="187.9" r="1.9" fill="#000" stroke="none" stroke-width="0"/>
<circle cx="400.9" cy="198.3" r="1.9" fill="#000" stroke="none" stroke-width="0"/>
<circle cx="400.9" cy="204.6" r="1.9" fill="#000" stroke="none" stroke-width="0"/>
<circle cx="400.9" cy="217.6" r="1.9" fill="#000" stroke="none" stroke-width="0"/>
<line x1="396.5" y1="195.4" x2="406.0" y2="195.4" stroke="#000" stroke-width="1.6" stroke-linecap="butt"/>
<circle cx="447.9" cy="188.7" r="1.9" fill="#000" stroke="none" stroke-width="0"/>
<circle cx="447.9" cy="198.8" r="1.9" fill="#000" stroke="none" stroke-width="0"/>
<circle cx="447.9" cy="206.0" r="1.9" fill="#000" stroke="none" stroke-width="0"/>
<circle cx="447.9" cy="224.0" r="1.9" fill="#000" stroke="none" stroke-width="0"/>
<circle cx="447.9" cy="241.2" r="1.9" fill="#000" stroke="none" stroke-width="0"/>
<circle cx="447.9" cy="247.3" r="1.9" fill="#000" stroke="none" stroke-width="0"/>
<circle cx="447.9" cy="250.2" r="1.9" fill="#000" stroke="none" stroke-width="0"/>
<circle cx="447.9" cy="253.0" r="1.9" fill="#000" stroke="none" stroke-width="0"/>
<circle cx="447.9" cy="256.0" r="1.9" fill="#000" stroke="none" stroke-width="0"/>
<circle cx="447.9" cy="259.5" r="1.9" fill="#000" stroke="none" stroke-width="0"/>
<line x1="444.0" y1="208.4" x2="453.6" y2="208.4" stroke="#000" stroke-width="1.6" stroke-linecap="butt"/>
<circle cx="495.5" cy="191.6" r="1.9" fill="#000" stroke="none" stroke-width="0"/>
<circle cx="495.5" cy="204.6" r="1.9" fill="#000" stroke="none" stroke-width="0"/>
<circle cx="495.5" cy="211.0" r="1.9" fill="#000" stroke="none" stroke-width="0"/>
<line x1="490.6" y1="199.7" x2="500.4" y2="199.7" stroke="#000" stroke-width="1.6" stroke-linecap="butt"/>
<line x1="322.6" y1="340.8" x2="322.6" y2="450.0" stroke="#8c8c8c" stroke-width="1.1" stroke-linecap="butt"/>
<line x1="322.6" y1="412.8" x2="519.4" y2="412.8" stroke="#8c8c8c" stroke-width="1.1" stroke-linecap="butt"/>
<line x1="319.6" y1="364.7" x2="322.6" y2="364.7" stroke="#8c8c8c" stroke-width="1" stroke-linecap="butt"/>
<line x1="319.6" y1="388.7" x2="322.6" y2="388.7" stroke="#8c8c8c" stroke-width="1" stroke-linecap="butt"/>
<line x1="372.9" y1="412.8" x2="372.9" y2="430.7" stroke="#8c8c8c" stroke-width="1.1" stroke-linecap="butt"/>
<line x1="421.6" y1="412.8" x2="421.6" y2="450.0" stroke="#8c8c8c" stroke-width="1.1" stroke-linecap="butt"/>
<line x1="471.3" y1="412.8" x2="471.3" y2="430.7" stroke="#8c8c8c" stroke-width="1.1" stroke-linecap="butt"/>
<line x1="519.4" y1="412.8" x2="519.4" y2="450.0" stroke="#8c8c8c" stroke-width="1.1" stroke-linecap="butt"/>
<text transform="translate(316.0,367.9) scale(1.0,1.12)" font-size="8.1" text-anchor="end" fill="#1e1e1e" stroke="#1e1e1e" stroke-width="0.18">100</text>
<text transform="translate(316.0,391.9) scale(1.0,1.12)" font-size="8.1" text-anchor="end" fill="#1e1e1e" stroke="#1e1e1e" stroke-width="0.18">10</text>
<text transform="translate(316.0,416.0) scale(1.0,1.12)" font-size="8.1" text-anchor="end" fill="#1e1e1e" stroke="#1e1e1e" stroke-width="0.18">1</text>
<text transform="translate(290.0,386.5) rotate(-90) scale(1.12,1.0)" font-size="8.1" text-anchor="middle" fill="#1e1e1e" stroke="#1e1e1e" stroke-width="0.18">IL-2 ELISPOTs per 100,000</text>
<text transform="translate(302.0,386.0) rotate(-90) scale(1.12,1.0)" font-size="8.1" text-anchor="middle" fill="#1e1e1e" stroke="#1e1e1e" stroke-width="0.18">PBMC</text>
<line x1="319.8" y1="340.8" x2="322.6" y2="340.8" stroke="#8c8c8c" stroke-width="1" stroke-linecap="butt"/>
<text transform="translate(318.0,347.2) scale(1.0,1.12)" font-size="8.1" text-anchor="end" fill="#1e1e1e" stroke="#1e1e1e" stroke-width="0.18">&gt;300</text>
<line x1="319.2" y1="355.6" x2="327.0" y2="346.7" stroke="#000" stroke-width="1.6" stroke-linecap="butt"/>
<line x1="321.7" y1="356.3" x2="330.0" y2="347.5" stroke="#000" stroke-width="1.6" stroke-linecap="butt"/>
<text transform="translate(347.5,429.0) scale(1.0,1.12)" font-size="8.1" text-anchor="middle" fill="#1e1e1e" stroke="#1e1e1e" stroke-width="0.18">NR</text>
<text transform="translate(396.8,429.0) scale(1.0,1.12)" font-size="8.1" text-anchor="middle" fill="#1e1e1e" stroke="#1e1e1e" stroke-width="0.18">PR</text>
<text transform="translate(445.9,429.0) scale(1.0,1.12)" font-size="8.1" text-anchor="middle" fill="#1e1e1e" stroke="#1e1e1e" stroke-width="0.18">NR</text>
<text transform="translate(495.5,429.0) scale(1.0,1.12)" font-size="8.1" text-anchor="middle" fill="#1e1e1e" stroke="#1e1e1e" stroke-width="0.18">PR</text>
<text transform="translate(372.5,447.0) scale(1.0,1.12)" font-size="8.1" text-anchor="middle" fill="#1e1e1e" stroke="#1e1e1e" stroke-width="0.18">DMF5</text>
<text transform="translate(470.7,447.0) scale(1.0,1.12)" font-size="8.1" text-anchor="middle" fill="#1e1e1e" stroke="#1e1e1e" stroke-width="0.18">gp100(154)</text>
<circle cx="346.9" cy="362.7" r="1.8" fill="none" stroke="#000" stroke-width="1.3"/>
<circle cx="346.9" cy="365.6" r="1.8" fill="none" stroke="#000" stroke-width="1.3"/>
<circle cx="346.9" cy="369.1" r="1.8" fill="none" stroke="#000" stroke-width="1.3"/>
<circle cx="346.9" cy="381.6" r="1.8" fill="none" stroke="#000" stroke-width="1.3"/>
<circle cx="346.9" cy="386.9" r="1.8" fill="none" stroke="#000" stroke-width="1.3"/>
<circle cx="346.9" cy="390.8" r="1.8" fill="none" stroke="#000" stroke-width="1.3"/>
<circle cx="346.9" cy="398.3" r="1.8" fill="none" stroke="#000" stroke-width="1.3"/>
<circle cx="346.9" cy="401.6" r="1.8" fill="none" stroke="#000" stroke-width="1.3"/>
<circle cx="346.9" cy="406.3" r="1.8" fill="none" stroke="#000" stroke-width="1.3"/>
<circle cx="346.9" cy="409.2" r="1.8" fill="none" stroke="#000" stroke-width="1.3"/>
<circle cx="346.9" cy="412.4" r="1.8" fill="none" stroke="#000" stroke-width="1.3"/>
<line x1="342.9" y1="377.6" x2="351.6" y2="377.6" stroke="#000" stroke-width="1.8" stroke-linecap="butt"/>
<circle cx="396.6" cy="351.8" r="1.8" fill="none" stroke="#000" stroke-width="1.3"/>
<circle cx="396.6" cy="354.2" r="1.8" fill="none" stroke="#000" stroke-width="1.3"/>
<circle cx="396.6" cy="356.9" r="1.8" fill="none" stroke="#000" stroke-width="1.3"/>
<circle cx="396.6" cy="360.2" r="1.8" fill="none" stroke="#000" stroke-width="1.3"/>
<circle cx="396.6" cy="363.1" r="1.8" fill="none" stroke="#000" stroke-width="1.3"/>
<ellipse cx="396.6" cy="380.8" rx="2.0" ry="2.6" fill="#000"/>
<line x1="392.3" y1="360.2" x2="400.9" y2="360.2" stroke="#000" stroke-width="1.7" stroke-linecap="butt"/>
<circle cx="445.6" cy="350.0" r="1.8" fill="none" stroke="#000" stroke-width="1.3"/>
<circle cx="445.6" cy="379.4" r="1.8" fill="none" stroke="#000" stroke-width="1.3"/>
<circle cx="445.6" cy="393.9" r="1.8" fill="none" stroke="#000" stroke-width="1.3"/>
<circle cx="445.6" cy="396.3" r="1.8" fill="none" stroke="#000" stroke-width="1.3"/>
<circle cx="445.6" cy="402.8" r="1.8" fill="none" stroke="#000" stroke-width="1.3"/>
<circle cx="445.6" cy="405.7" r="1.8" fill="none" stroke="#000" stroke-width="1.3"/>
<circle cx="445.6" cy="409.2" r="1.8" fill="none" stroke="#000" stroke-width="1.3"/>
<ellipse cx="445.6" cy="359.3" rx="2.1" ry="2.5" fill="#000"/>
<line x1="441.6" y1="366.2" x2="450.4" y2="366.2" stroke="#000" stroke-width="1.7" stroke-linecap="butt"/>
<circle cx="495.2" cy="348.4" r="1.8" fill="none" stroke="#000" stroke-width="1.3"/>
<circle cx="495.2" cy="378.2" r="1.8" fill="none" stroke="#000" stroke-width="1.3"/>
<circle cx="495.2" cy="354.8" r="2.0" fill="#000" stroke="none" stroke-width="0"/>
<line x1="491.2" y1="354.8" x2="499.5" y2="354.8" stroke="#000" stroke-width="1.7" stroke-linecap="butt"/>
</svg>
</body></html>
